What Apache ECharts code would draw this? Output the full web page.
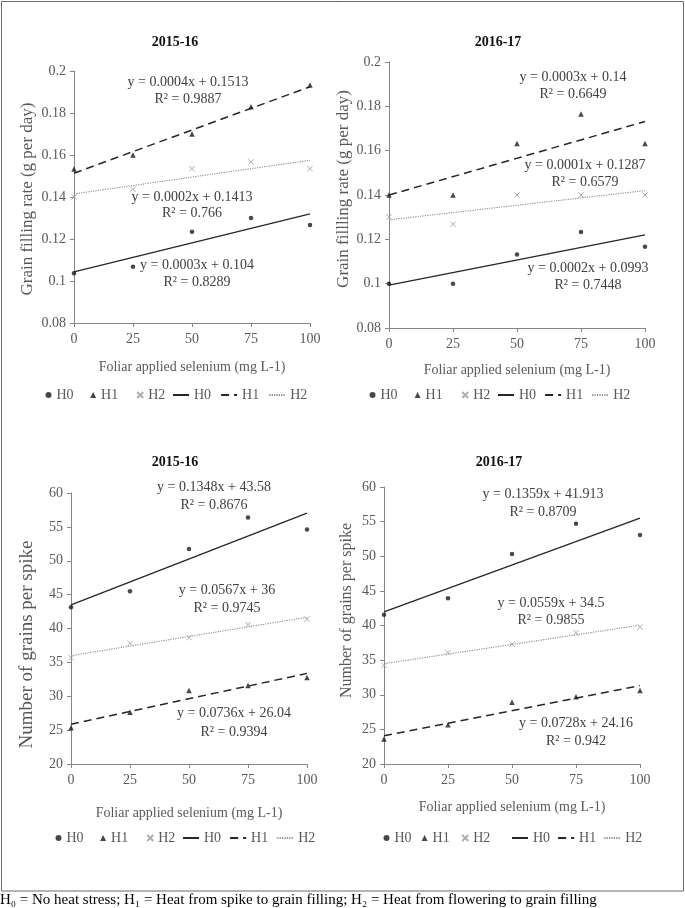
<!DOCTYPE html>
<html>
<head>
<meta charset="utf-8">
<script src="https://cdn.jsdelivr.net/npm/echarts@6/dist/echarts.min.js"></script>
<style>
html,body{margin:0;padding:0;background:#fff;}
#c{width:685px;height:908px;}
</style>
</head>
<body>
<div id="c"></div>
<script>
// ---------------- DATA ----------------
const seleniumDoses = [0, 25, 50, 75, 100];
const xTickValues = [0, 25, 50, 75, 100];
const panelTitles = ['2015-16', '2016-17', '2015-16', '2016-17'];
const yAxisNames = ['Grain filling rate (g per day)', 'Grain fillling rate (g per day)',
                    'Number of grains per spike', 'Number of grains per spike'];
const xAxisName = 'Foliar applied selenium (mg L-1)';
const treatmentNames = ['H0', 'H1', 'H2'];

// Grain filling rate (g per day)
const gfr1516H0 = [0.1037, 0.1068, 0.1235, 0.1300, 0.1267];
const gfr1516H1 = [0.1533, 0.1600, 0.1700, 0.1830, 0.1933];
const gfr1516H2 = [0.1400, 0.1437, 0.1535, 0.1567, 0.1535];
const gfr1617H0 = [0.1000, 0.1000, 0.1132, 0.1233, 0.1167];
const gfr1617H1 = [0.1400, 0.1400, 0.1632, 0.1765, 0.1632];
const gfr1617H2 = [0.1301, 0.1268, 0.1400, 0.1400, 0.1400];
// Number of grains per spike
const gps1516H0 = [43.13, 45.50, 51.72, 56.38, 54.60];
const gps1516H1 = [25.34, 27.65, 30.84, 31.57, 32.75];
const gps1516H2 = [35.69, 37.80, 38.67, 40.59, 41.38];
const gps1617H0 = [41.54, 43.94, 50.34, 54.71, 53.08];
const gps1617H1 = [23.60, 25.67, 28.90, 29.70, 30.63];
const gps1617H2 = [34.23, 36.10, 37.30, 38.94, 39.76];

// Trendline equation labels (as printed)
const eqP1 = [['y = 0.0003x + 0.104', 'R² = 0.8289'], ['y = 0.0004x + 0.1513', 'R² = 0.9887'], ['y = 0.0002x + 0.1413', 'R² = 0.766']];
const eqP2 = [['y = 0.0002x + 0.0993', 'R² = 0.7448'], ['y = 0.0003x + 0.14', 'R² = 0.6649'], ['y = 0.0001x + 0.1287', 'R² = 0.6579']];
const eqP3 = [['y = 0.1348x + 43.58', 'R² = 0.8676'], ['y = 0.0736x + 26.04', 'R² = 0.9394'], ['y = 0.0567x + 36', 'R² = 0.9745']];
const eqP4 = [['y = 0.1359x + 41.913', 'R² = 0.8709'], ['y = 0.0728x + 24.16', 'R² = 0.942'], ['y = 0.0559x + 34.5', 'R² = 0.9855']];

const footnote = 'H₀ = No heat stress; H₁ = Heat from spike to grain filling; H₂ = Heat from flowering to grain filling';

// ---------------- LAYOUT ----------------
const FONT = '"Liberation Serif", "Times New Roman", serif';
const AX = '#868686', TXT = '#595959', EQ = '#404040';

const panels = [
  { values: [gfr1516H0, gfr1516H1, gfr1516H2], eq: eqP1, yMin: 0.08, yMax: 0.2, yInt: 0.02,
    grid: {left: 74, top: 71, width: 236, height: 252}, title: [170, 30],
    yGap: 38, yNameSize: 17, yNamePad: [0, 4, 0, 0], xGap: 37,
    legS: [45.5, 388, 16.5], legL: [172, 388, 9],
    eqPos: [[[197,265],[197,282]], [[188,82],[188,99]], [[192,197],[192,213]]] },
  { values: [gfr1617H0, gfr1617H1, gfr1617H2], eq: eqP2, yMin: 0.08, yMax: 0.2, yInt: 0.02,
    grid: {left: 389, top: 62, width: 256, height: 266}, title: [493, 30],
    yGap: 37, yNameSize: 17, yNamePad: [0, 0, 0, 12], xGap: 35,
    legS: [369.5, 388, 17], legL: [497, 388, 8],
    eqPos: [[[588,268],[588,285]], [[573,77],[573,94]], [[585,165],[585,182]]] },
  { values: [gps1516H0, gps1516H1, gps1516H2], eq: eqP3, yMin: 20, yMax: 60, yInt: 5,
    grid: {left: 71, top: 493, width: 236, height: 271}, title: [170, 450],
    yGap: 34, yNameSize: 19, yNamePad: [0, 32, 0, 0], xGap: 42,
    legS: [55.5, 831, 16.5], legL: [182, 831, 8],
    eqPos: [[[214,487],[214,505]], [[234,713],[234,732]], [[227,590],[227,608]]] },
  { values: [gps1617H0, gps1617H1, gps1617H2], eq: eqP4, yMin: 20, yMax: 60, yInt: 5,
    grid: {left: 384, top: 487, width: 256, height: 277}, title: [494, 450],
    yGap: 29, yNameSize: 16, yNamePad: [0, 0, 0, 30], xGap: 36,
    legS: [383.5, 831, 10], legL: [511, 831, 7],
    eqPos: [[[543,494],[543,512]], [[576,723],[576,741]], [[551,603],[551,620]]] }
];

const ZW = '\u200b';
const markerStyles = [
  { symbol: 'circle', symbolSize: 4.5, itemStyle: { color: '#1a1a1a' } },
  { symbol: 'triangle', symbolSize: 5.5, itemStyle: { color: '#1a1a1a' } },
  { symbol: 'path://M0,0L10,10M0,10L10,0', symbolSize: 5.5, itemStyle: { color: 'none', borderColor: '#9a9a9a', borderWidth: 1 } }
];
const trendStyles = [
  { color: '#262626', width: 1.3, type: 'solid' },
  { color: '#262626', width: 1.5, type: [8, 5] },
  { color: '#8c8c8c', width: 1.1, type: [1.2, 1.2] }
];

function linearFit(xs, ys) {
  const n = xs.length;
  const mx = xs.reduce((a, b) => a + b, 0) / n;
  const my = ys.reduce((a, b) => a + b, 0) / n;
  let sxy = 0, sxx = 0;
  for (let i = 0; i < n; i++) { sxy += (xs[i] - mx) * (ys[i] - my); sxx += (xs[i] - mx) ** 2; }
  const m = sxy / sxx, b = my - m * mx;
  const x0 = xs[0], x1 = xs[n - 1];
  return [[x0, b + m * x0], [x1, b + m * x1]];
}

const grid = [], xAxis = [], yAxis = [], series = [], title = [], legend = [], graphic = [];

panels.forEach((p, i) => {
  grid.push(Object.assign({ containLabel: false }, p.grid));
  title.push({ text: panelTitles[i], left: p.title[0], top: p.title[1], textAlign: 'center',
    textStyle: { fontFamily: FONT, fontSize: 14, fontWeight: 'bold', color: '#111' } });
  xAxis.push({ type: 'value', gridIndex: i, min: 0, max: 100, interval: 25,
    name: xAxisName, nameLocation: 'middle', nameGap: p.xGap,
    nameTextStyle: { fontFamily: FONT, fontSize: 14, color: TXT },
    axisLine: { lineStyle: { color: AX, width: 1 } },
    axisTick: { show: true, length: 4, lineStyle: { color: AX } },
    axisLabel: { fontFamily: FONT, fontSize: 14, color: TXT, margin: 9 },
    splitLine: { show: false } });
  yAxis.push({ type: 'value', gridIndex: i, min: p.yMin, max: p.yMax, interval: p.yInt,
    name: yAxisNames[i], nameLocation: 'middle', nameGap: p.yGap,
    nameTextStyle: { fontFamily: FONT, fontSize: p.yNameSize, color: TXT, padding: p.yNamePad },
    axisLine: { show: true, lineStyle: { color: AX, width: 1 } },
    axisTick: { show: true, length: 4, lineStyle: { color: AX } },
    axisLabel: { fontFamily: FONT, fontSize: 14, color: TXT, margin: 8 },
    splitLine: { show: false } });

  p.values.forEach((vals, k) => {
    series.push(Object.assign({
      type: 'scatter', name: treatmentNames[k], xAxisIndex: i, yAxisIndex: i,
      data: seleniumDoses.map((x, j) => [x, vals[j]]), z: 3, silent: true
    }, markerStyles[k]));
  });
  p.values.forEach((vals, k) => {
    series.push({
      type: 'line', name: treatmentNames[k] + ZW, xAxisIndex: i, yAxisIndex: i,
      data: linearFit(seleniumDoses, vals), symbol: 'none', showSymbol: false, silent: true,
      lineStyle: trendStyles[k], itemStyle: { color: trendStyles[k].color }, z: 2
    });
  });

  const legText = { fontFamily: FONT, fontSize: 14, color: TXT };
  legend.push({ left: p.legS[0], top: p.legS[1], itemGap: p.legS[2], itemWidth: 6, itemHeight: 6,
    padding: 0, selectedMode: false, textStyle: legText, data: treatmentNames.slice() });
  legend.push({ left: p.legL[0], top: p.legL[1], itemGap: p.legL[2], itemWidth: 16, itemHeight: 10,
    padding: 0, selectedMode: false, textStyle: legText,
    itemStyle: { opacity: 0, color: 'rgba(0,0,0,0)', borderWidth: 0 },
    data: treatmentNames.map(n => n + ZW), formatter: n => n.replace(ZW, '') });

  p.eq.forEach((pair, k) => {
    pair.forEach((t, r) => {
      graphic.push({ type: 'text', x: p.eqPos[k][r][0], y: p.eqPos[k][r][1], silent: true,
        style: { text: t, fill: EQ, font: '14px ' + FONT, textAlign: 'center', textVerticalAlign: 'middle' } });
    });
  });
});

graphic.push({ type: 'rect', silent: true, shape: { x: 1.5, y: 1.5, width: 682, height: 889.5 },
  style: { fill: 'none', stroke: '#6a6a6a', lineWidth: 1 } });
graphic.push({ type: 'text', x: 0, y: 900, silent: true,
  style: { text: footnote, fill: '#000', font: '15px ' + FONT, textAlign: 'left', textVerticalAlign: 'middle' } });

const chart = echarts.init(document.getElementById('c'), null, { renderer: 'canvas' });
chart.setOption({ animation: false, backgroundColor: '#fff', title, legend, grid, xAxis, yAxis, series, graphic });
</script>
</body>
</html>
